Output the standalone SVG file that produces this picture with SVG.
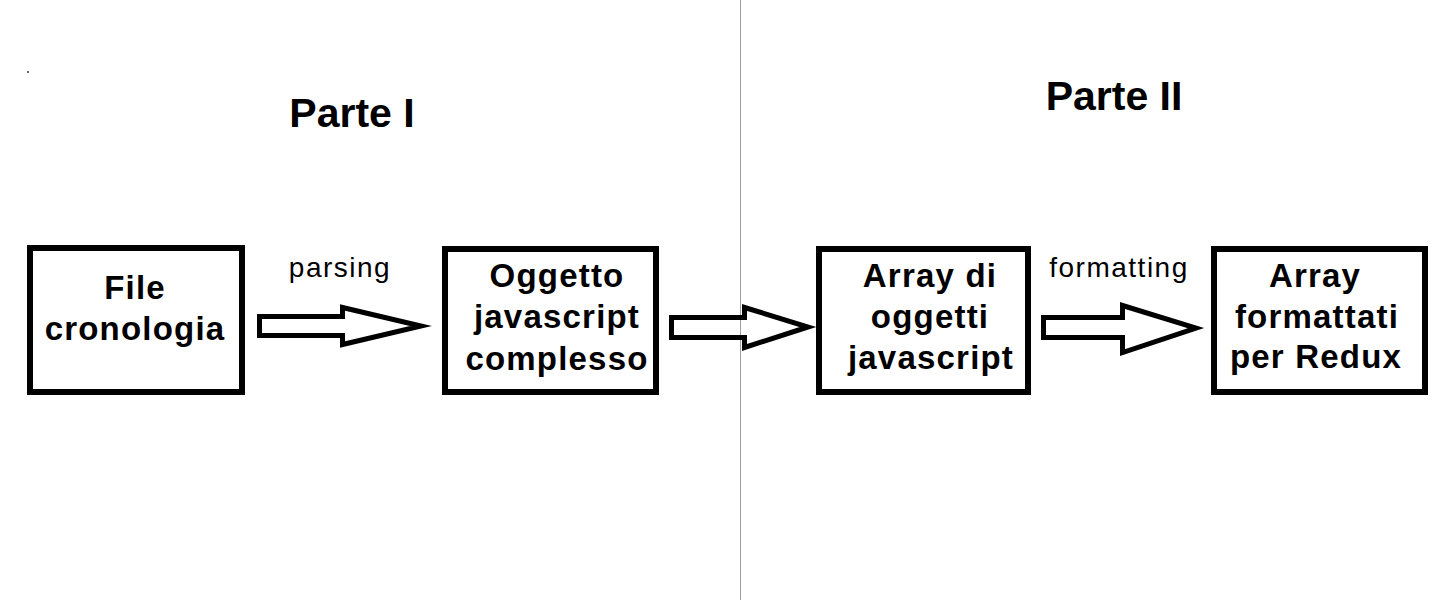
<svg xmlns="http://www.w3.org/2000/svg" width="1449" height="600" viewBox="0 0 1449 600">
<style>
.box{fill:#fff;stroke:#000;stroke-width:6}
.arr{fill:none;stroke:#000;stroke-width:5;stroke-linejoin:miter;stroke-miterlimit:10}
.t{font-family:"Liberation Sans",Arial,sans-serif;font-weight:bold;font-size:33px;letter-spacing:1.2px;text-anchor:middle;fill:#000}
.title{font-family:"Liberation Sans",Arial,sans-serif;font-weight:bold;font-size:41px;text-anchor:middle;fill:#000}
.lbl{font-family:"Liberation Sans",Arial,sans-serif;font-size:28px;letter-spacing:1.5px;text-anchor:middle;fill:#000}
</style>
<rect width="1449" height="600" fill="#fff"/>
<line x1="740.5" y1="0" x2="740.5" y2="600" stroke="#a0a0a0" stroke-width="1"/>
<rect x="27" y="71" width="2" height="2" fill="#666"/>
<text class="title" x="352" y="127">Parte I</text>
<text class="title" x="1114" y="110">Parte II</text>
<g id="connectors">
  <polygon class="arr" points="259.5,316.5 342.5,316.5 342.5,307.5 421,326 342.5,344.5 342.5,335.5 259.5,335.5"/>
  <polygon class="arr" points="671.5,317.5 744.5,317.5 744.5,307.5 808,327 744.5,347.5 744.5,337.5 671.5,337.5"/>
  <polygon class="arr" points="1043.5,317.5 1122.5,317.5 1122.5,305.5 1196,328 1122.5,352.5 1122.5,337.5 1043.5,337.5"/>
  <text class="lbl" x="340" y="277">parsing</text>
  <text class="lbl" x="1119" y="277">formatting</text>
</g>
<g id="file-cronologia">
  <rect class="box" x="30" y="248" width="212" height="144"/>
  <text class="t" x="135" y="299">File</text>
  <text class="t" x="135" y="340">cronologia</text>
</g>
<g id="oggetto-javascript">
  <rect class="box" x="445" y="249" width="211" height="143"/>
  <text class="t" x="557" y="287">Oggetto</text>
  <text class="t" x="557" y="328">javascript</text>
  <text class="t" x="557" y="370">complesso</text>
</g>
<g id="array-oggetti">
  <rect class="box" x="819" y="249" width="209" height="143"/>
  <text class="t" x="930" y="287">Array di</text>
  <text class="t" x="930" y="328">oggetti</text>
  <text class="t" x="931" y="369">javascript</text>
</g>
<g id="array-formattati">
  <rect class="box" x="1214" y="249" width="211" height="143"/>
  <text class="t" x="1315" y="287">Array</text>
  <text class="t" x="1317" y="328">formattati</text>
  <text class="t" x="1316" y="368">per Redux</text>
</g>
</svg>
